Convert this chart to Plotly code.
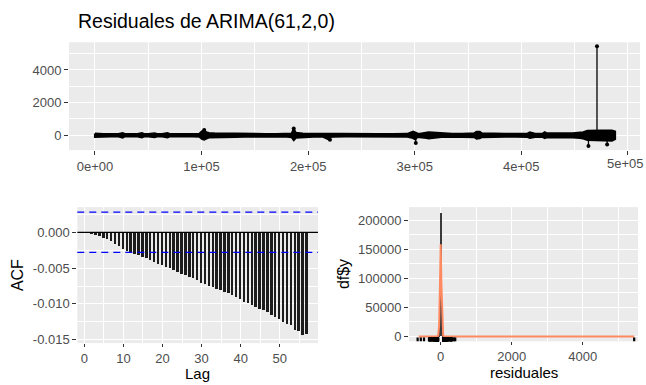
import plotly.graph_objects as go

W, H = 646, 385
FONT = "Liberation Sans, Arial, sans-serif"

# ---------------- data ----------------
# Top panel: envelope of the residual series at sampled time indices
env_t = [0, 2000, 8000, 15000, 22000, 26000, 28000, 32000, 40000, 44000, 46000, 50000, 56000,
         58000, 63000, 68000, 70000, 75000, 85000, 92000, 98000, 100500, 102500, 104500, 107000,
         112000, 118000, 125000, 132000, 140000, 150000, 160000, 170000, 180000, 184500, 186500,
         188500, 195000, 205000, 214000, 219000, 221000, 224000, 235000, 250000, 265000, 280000,
         293000, 298500, 300500, 302500, 305000, 311000, 313000, 317000, 319000, 325000, 335000,
         345000, 352000, 356000, 358000, 361000, 363000, 368000, 375000, 385000, 395000, 401000,
         406000, 408000, 413000, 420000, 422000, 424000, 428000, 435000, 442000, 448000, 455000,
         458000, 462000, 466000, 470000, 475000, 480000, 485000, 488000]
env_hi = [110, 90, 75, 80, 75, 140, 80, 75, 80, 140, 80, 80, 130,
          80, 75, 140, 80, 80, 75, 80, 90, 260, 300, 180, 140,
          120, 110, 110, 100, 90, 80, 85, 80, 90, 110, 380,
          150, 110, 100, 90, 100, 110, 90, 80, 80, 75, 80,
          90, 230, 170, 110, 100, 170, 180, 170, 160, 100, 90,
          100, 110, 130, 220, 210, 120, 110, 90, 90, 100, 90,
          110, 180, 100, 110, 190, 120, 110, 110, 120, 130, 150,
          190, 280, 290, 320, 300, 290, 290, 230]
env_lo = [-110, -90, -75, -80, -80, -150, -75, -80, -80, -140, -80, -80, -120,
          -80, -80, -130, -80, -75, -80, -80, -90, -240, -270, -200, -140,
          -120, -110, -110, -100, -90, -80, -85, -80, -90, -120, -300,
          -150, -110, -90, -90, -250, -110, -90, -80, -80, -75, -80,
          -90, -170, -260, -110, -100, -170, -190, -180, -160, -100, -90,
          -100, -110, -120, -210, -190, -120, -110, -90, -90, -90, -90,
          -110, -170, -100, -110, -170, -120, -110, -120, -130, -140, -160,
          -200, -290, -300, -310, -320, -320, -330, -230]
# isolated large residuals (time index, value)
out_t = [102500, 186500, 220500, 301000, 463000, 471000, 480500]
out_v = [330, 410, -280, -470, -650, 5450, -560]

top_xticks = [0, 100000, 200000, 300000, 400000, 500000]
top_xlabels = ["0e+00", "1e+05", "2e+05", "3e+05", "4e+05", "5e+05"]
top_xminor = [50000, 150000, 250000, 350000, 450000]
top_yticks = [0, 2000, 4000]
top_yminor = [1000, 3000, 5000]

# ACF panel
acf_lags = list(range(1, 58))
acf_vals = [-0.0000, -0.0002, -0.0004, -0.0006, -0.0008, -0.0010, -0.0013, -0.0016, -0.0019,
            -0.0023, -0.0026, -0.0028, -0.0030, -0.0032, -0.0034, -0.0036, -0.0039, -0.0042,
            -0.0044, -0.0046, -0.0048, -0.0050, -0.0053, -0.0055, -0.0058, -0.0060, -0.0062,
            -0.0064, -0.0067, -0.0071, -0.0073, -0.0075, -0.0077, -0.0079, -0.0081, -0.0083,
            -0.0085, -0.0088, -0.0091, -0.0094, -0.0097, -0.0099, -0.0101, -0.0104, -0.0107,
            -0.0109, -0.0111, -0.0116, -0.0119, -0.0121, -0.0125, -0.0128, -0.0130, -0.0136,
            -0.0138, -0.0143, -0.0142]
n_obs = 487000
acf_xticks = [0, 10, 20, 30, 40, 50]
acf_xminor = [5, 15, 25, 35, 45, 55]
acf_yticks = [0.0, -0.005, -0.010, -0.015]
acf_ylabels = ["0.000", "-0.005", "-0.010", "-0.015"]
acf_yminor = [0.0025, -0.0025, -0.0075, -0.0125]

# Histogram panel
hist_mid = [-50, -25, 0, 25, 50]
hist_cnt = [1000, 15000, 213000, 15000, 1000]
hist_bw = 25
norm_x = [-620, -100, -70, -45, -20, 0, 20, 45, 70, 100, 5450]
norm_y = [0, 50, 1500, 18000, 90000, 159000, 90000, 18000, 1500, 50, 0]
hist_xticks = [0, 2000, 4000]
hist_xminor = [1000, 3000, 5000]
hist_yticks = [0, 50000, 100000, 150000, 200000]
hist_ylabels = ["0", "50000", "100000", "150000", "200000"]
hist_yminor = [25000, 75000, 125000, 175000]

# ---------------- layout helpers ----------------
def dx(a, b):
    return [a / W, b / W]

def dy(top, bottom):
    return [1 - bottom / H, 1 - top / H]

def axis(domain, rng, tickvals, ticktext, minor, anchor, ticklen=4):
    return dict(
        domain=domain, range=rng, tickvals=tickvals, ticktext=ticktext,
        showgrid=True, gridcolor="white", gridwidth=1.2, zeroline=False,
        ticks="outside", ticklen=ticklen, tickwidth=1, tickcolor="#333333",
        tickfont=dict(family=FONT, size=13, color="#4D4D4D"),
        showline=False, anchor=anchor, fixedrange=True,
        minor=dict(tickvals=minor, showgrid=True, gridcolor="white", gridwidth=0.6, ticks=""),
    )

fig = go.Figure()

# ---- top panel ----
poly_x = env_t + env_t[::-1] + [env_t[0]]
poly_y = env_hi + env_lo[::-1] + [env_hi[0]]
fig.add_trace(go.Scatter(x=poly_x, y=poly_y, mode="lines", fill="toself",
                         fillcolor="black", line=dict(color="black", width=2),
                         xaxis="x", yaxis="y", hoverinfo="skip"))
seg_x, seg_y = [], []
for t, v in zip(out_t, out_v):
    seg_x += [t, t, None]
    seg_y += [0, v, None]
fig.add_trace(go.Scatter(x=seg_x, y=seg_y, mode="lines", line=dict(color="black", width=1.3),
                         xaxis="x", yaxis="y", hoverinfo="skip"))
fig.add_trace(go.Scatter(x=out_t, y=out_v, mode="markers", marker=dict(color="black", size=4),
                         xaxis="x", yaxis="y", hoverinfo="skip"))

# ---- ACF panel ----
fig.add_trace(go.Bar(x=acf_lags, y=acf_vals, width=0.5, marker=dict(color="#1c1c1c", line=dict(width=0)),
                     xaxis="x2", yaxis="y2", hoverinfo="skip"))

# ---- histogram panel ----
fig.add_trace(go.Bar(x=hist_mid, y=hist_cnt, width=hist_bw, marker=dict(color="#3a3a3a", line=dict(width=0)),
                     xaxis="x3", yaxis="y3", hoverinfo="skip"))
fig.add_trace(go.Scatter(x=norm_x, y=norm_y, mode="lines", line=dict(color="#ff8a62", width=2),
                         xaxis="x3", yaxis="y3", hoverinfo="skip"))
hist_yrange = [-8600, 223000]
rug_vals = env_hi + env_lo + out_v
rug_len = (hist_yrange[1] - hist_yrange[0]) * 0.03
rx, ry = [], []
for v in rug_vals:
    rx += [v, v, None]
    ry += [hist_yrange[0], hist_yrange[0] + rug_len, None]
fig.add_trace(go.Scatter(x=rx, y=ry, mode="lines", line=dict(color="black", width=2.2),
                         xaxis="x3", yaxis="y3", hoverinfo="skip"))

ci = 1.96 / n_obs ** 0.5

# the last top-axis label sits at the right edge; draw it as an annotation so it is not dropped
top_ticktext = top_xlabels[:-1] + [""]

fig.update_layout(
    width=W, height=H, margin=dict(l=0, r=0, t=0, b=0),
    paper_bgcolor="white", plot_bgcolor="#EBEBEB", showlegend=False,
    bargap=0,
    xaxis=axis(dx(69, 640), [-24350, 511350], top_xticks, top_ticktext, top_xminor, "y"),
    yaxis=axis(dy(42.7, 151.7), [-909, 5697], top_yticks, [str(v) for v in top_yticks], top_yminor, "x"),
    xaxis2=axis(dx(77.3, 318), [-1.8, 59.8], acf_xticks, [str(v) for v in acf_xticks], acf_xminor, "y2", 3),
    yaxis2=axis(dy(209.3, 346.7), [-0.01547, 0.00351], acf_yticks, acf_ylabels, acf_yminor, "x2"),
    xaxis3=axis(dx(409, 638), [-893, 5558], hist_xticks, [str(v) for v in hist_xticks], hist_xminor, "y3", 3),
    yaxis3=axis(dy(209.3, 345), hist_yrange, hist_yticks, hist_ylabels, hist_yminor, "x3"),
    shapes=[
        dict(type="line", xref="x2 domain", yref="y2", x0=0, x1=1, y0=0, y1=0,
             line=dict(color="black", width=1.3), layer="above"),
        dict(type="line", xref="x2 domain", yref="y2", x0=0, x1=1, y0=ci, y1=ci,
             line=dict(color="#0000FF", width=1.4, dash="7px,5px"), layer="above"),
        dict(type="line", xref="x2 domain", yref="y2", x0=0, x1=1, y0=-ci, y1=-ci,
             line=dict(color="#0000FF", width=1.4, dash="7px,5px"), layer="above"),
    ],
    annotations=[
        dict(text="Residuales de ARIMA(61,2,0)", xref="paper", yref="paper",
             x=76 / W, y=1 - 21 / H, xanchor="left", yanchor="middle", showarrow=False,
             font=dict(family=FONT, size=19.5, color="black")),
        dict(text=top_xlabels[-1], xref="x", yref="paper", x=top_xticks[-1], y=1 - 165 / H,
             xanchor="center", yanchor="middle", xshift=-2, showarrow=False, borderpad=0,
             font=dict(family=FONT, size=13, color="#4D4D4D")),
        dict(text="ACF", xref="paper", yref="paper", x=17 / W, y=1 - 278 / H, textangle=-90,
             xanchor="center", yanchor="middle", showarrow=False,
             font=dict(family=FONT, size=16, color="black")),
        dict(text="Lag", xref="paper", yref="paper", x=197.7 / W, y=-2.5 / H,
             xanchor="center", yanchor="bottom", showarrow=False, borderpad=0,
             font=dict(family=FONT, size=15, color="black")),
        dict(text="df$y", xref="paper", yref="paper", x=343 / W, y=1 - 277 / H, textangle=-90,
             xanchor="center", yanchor="middle", showarrow=False,
             font=dict(family=FONT, size=16, color="black")),
        dict(text="residuales", xref="paper", yref="paper", x=523.5 / W, y=-1 / H,
             xanchor="center", yanchor="bottom", showarrow=False, borderpad=0,
             font=dict(family=FONT, size=15, color="black")),
    ],
)

fig.write_html(
    "out.html",
    config={"displayModeBar": False},
    post_script="document.body.style.margin='0px';document.body.style.padding='0px';"
                "document.body.style.overflow='hidden';",
)
